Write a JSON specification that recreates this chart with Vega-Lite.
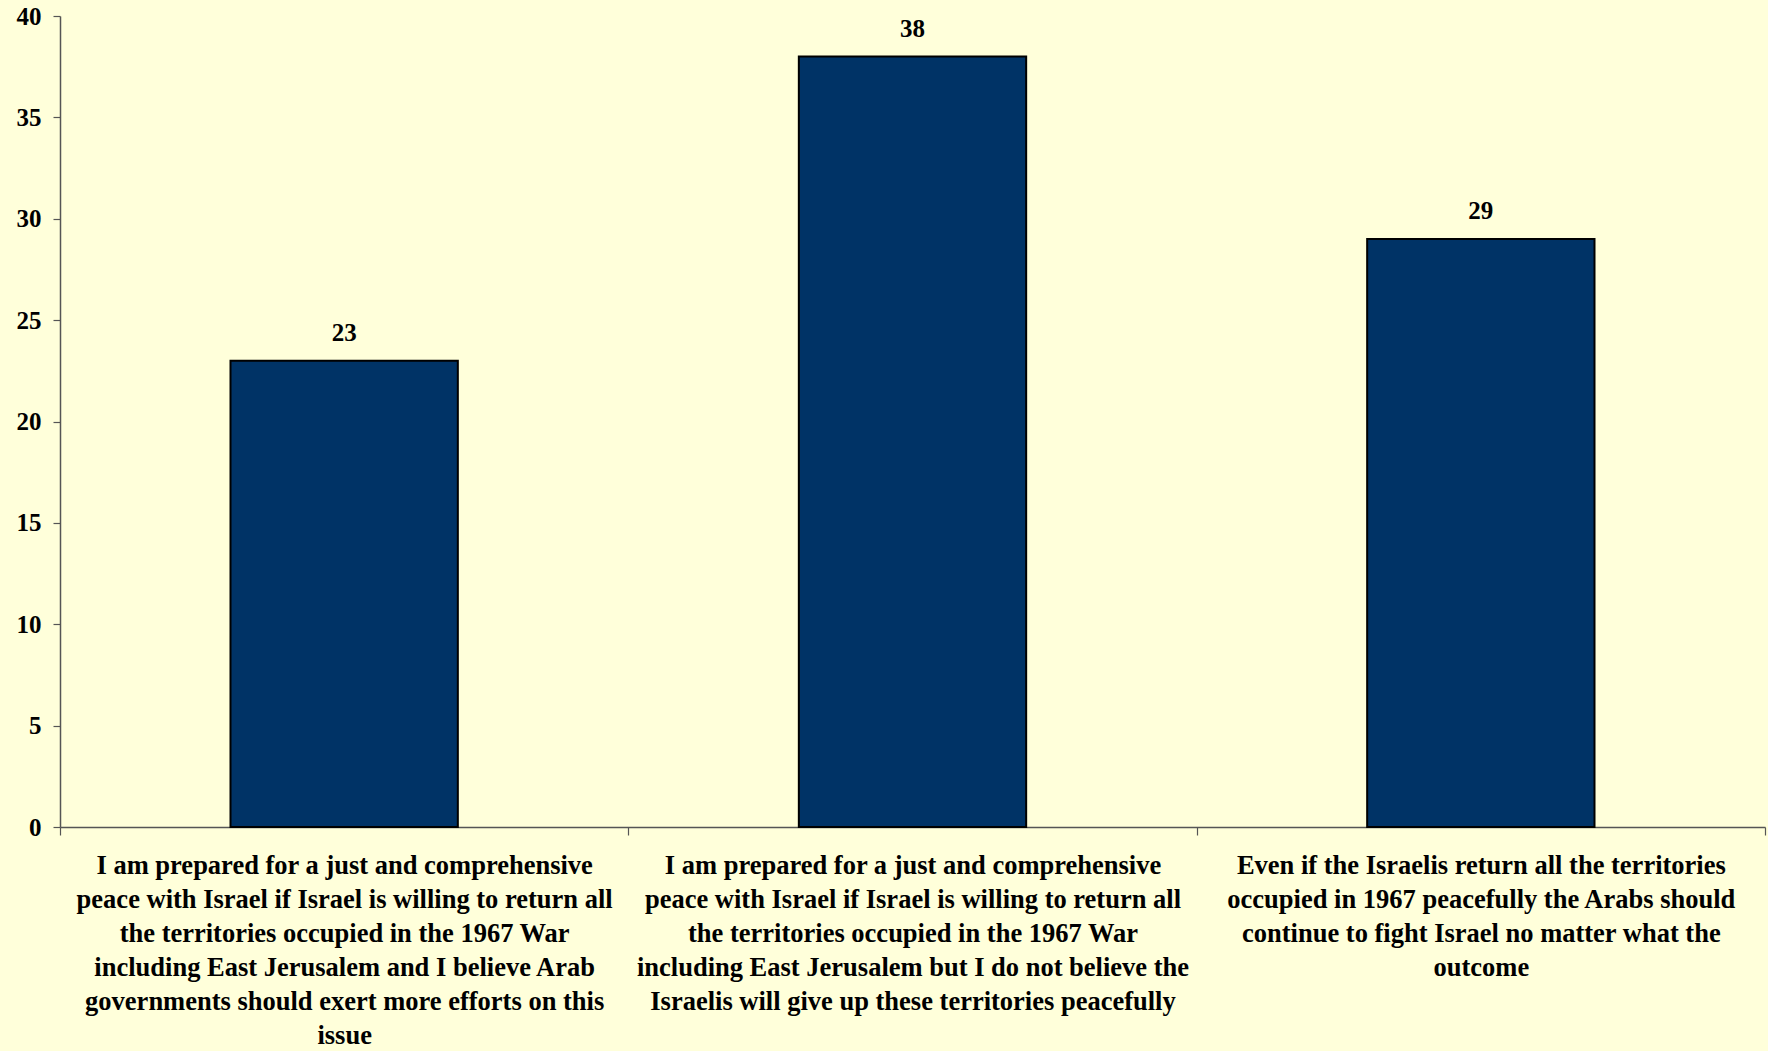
{
  "$schema": "https://vega.github.io/schema/vega-lite/v6.json",
  "width": 1705,
  "height": 811,
  "autosize": {"type": "none"},
  "padding": {"left": 60, "top": 16, "right": 3, "bottom": 224},
  "background": "#FFFFDA",
  "config": {
    "view": {"stroke": null},
    "font": "Liberation Serif"
  },
  "data": {
    "values": [
      {"order": 1, "response": "I am prepared for a just and comprehensive|peace with Israel if Israel is willing to return all|the territories occupied in the 1967 War|including East Jerusalem and I believe Arab|governments should exert more efforts on this|issue", "percent": 23},
      {"order": 2, "response": "I am prepared for a just and comprehensive|peace with Israel if Israel is willing to return all|the territories occupied in the 1967 War|including East Jerusalem but I do not believe the|Israelis will give up these territories peacefully", "percent": 38},
      {"order": 3, "response": "Even if the Israelis return all the territories|occupied in 1967 peacefully the Arabs should|continue to fight Israel no matter what the|outcome", "percent": 29}
    ]
  },
  "encoding": {
    "x": {
      "field": "response",
      "type": "nominal",
      "sort": {"field": "order"},
      "scale": {"paddingInner": 0, "paddingOuter": 0},
      "axis": {
        "title": null,
        "labelAngle": 0,
        "labelExpr": "split(datum.label, '|')",
        "labelFont": "Liberation Serif",
        "labelFontWeight": "bold",
        "labelFontSize": 26.5,
        "labelLineHeight": 34,
        "labelColor": "#000000",
        "labelPadding": 17,
        "labelLimit": 0,
        "labelBaseline": "top",
        "tickBand": "extent",
        "tickSize": 8,
        "tickColor": "#555555",
        "domainColor": "#555555",
        "domainWidth": 1.5,
        "tickWidth": 1.2
      }
    },
    "y": {
      "field": "percent",
      "type": "quantitative",
      "scale": {"domain": [0, 40]},
      "axis": {
        "title": null,
        "values": [0, 5, 10, 15, 20, 25, 30, 35, 40],
        "grid": false,
        "labelFont": "Liberation Serif",
        "labelFontWeight": "bold",
        "labelFontSize": 25,
        "labelColor": "#000000",
        "labelPadding": 12,
        "tickSize": 7,
        "tickColor": "#555555",
        "domainColor": "#555555",
        "domainWidth": 1.5,
        "tickWidth": 1.2
      }
    }
  },
  "layer": [
    {
      "mark": {"type": "bar", "width": {"band": 0.4}, "color": "#003366", "stroke": "#000000", "strokeWidth": 2}
    },
    {
      "mark": {"type": "text", "baseline": "bottom", "dy": -15, "font": "Liberation Serif", "fontWeight": "bold", "fontSize": 25, "color": "#000000"},
      "encoding": {"text": {"field": "percent", "type": "quantitative"}}
    }
  ]
}
